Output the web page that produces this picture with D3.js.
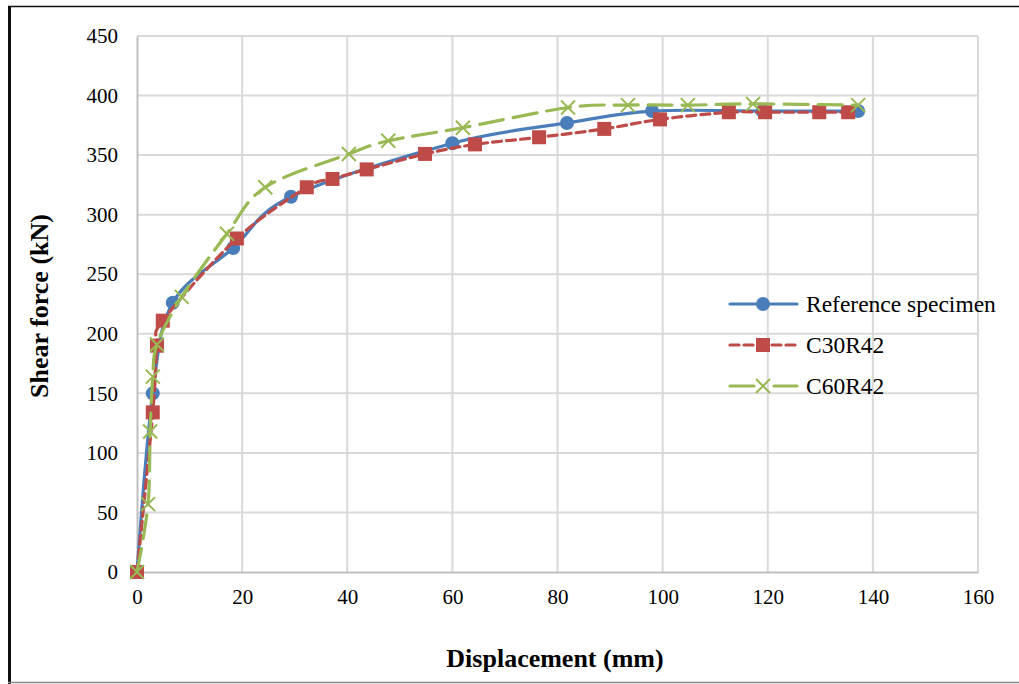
<!DOCTYPE html>
<meta charset="utf-8">
<style>
body{margin:0;background:#fff;}
svg text{font-family:"Liberation Serif","Times New Roman",serif;fill:#000;}
</style>
<svg id="chart" width="1019" height="684"></svg>
<script src="https://d3js.org/d3.v7.min.js"></script>
<script>
// data: displacement (mm) / shear force (kN)
const refX = [0, 3.0, 6.8, 18.3, 29.3, 60, 81.8, 98, 119, 137.2]
const refY = [0, 150, 226, 272, 315, 360, 377, 387, 387, 387]
const c30X = [0, 3.0, 3.8, 4.9, 19, 32.3, 37.2, 43.7, 54.8, 64.3, 76.5, 88.9, 99.5, 112.6, 119.5, 129.8, 135.3]
const c30Y = [0, 134, 190, 211, 280, 323, 330, 338, 351, 359, 365, 372, 380, 386, 386, 386, 386]
const c60X = [0, 2.1, 2.5, 3.0, 3.8, 8.5, 17.1, 24.4, 40.3, 47.8, 62, 82, 93.4, 104.8, 117.2, 137.2]
const c60Y = [0, 57, 118, 164, 191, 231, 284, 323, 351, 362, 373, 390, 392, 392, 393, 392]
const seriesNames = ['Reference specimen', 'C30R42', 'C60R42']
const xTicks = d3.range(0, 161, 20)
const yTicks = d3.range(0, 451, 50)

const svg = d3.select('#chart')

// outer frame
svg.append('line').attr('x1', 9.5).attr('x2', 9.5).attr('y1', 6).attr('y2', 684).attr('stroke', '#111').attr('stroke-width', 3)
svg.append('line').attr('x1', 8).attr('x2', 1019).attr('y1', 6.5).attr('y2', 6.5).attr('stroke', '#111').attr('stroke-width', 1.5)
svg.append('line').attr('x1', 8).attr('x2', 1019).attr('y1', 682.5).attr('y2', 682.5).attr('stroke', '#888').attr('stroke-width', 1.5)

const x = d3.scaleLinear().domain([0, 160]).range([137, 978])
const y = d3.scaleLinear().domain([0, 450]).range([572, 36])

// grid
const grid = svg.append('g')
grid.selectAll('line.v').data(xTicks.slice(1)).enter().append('line')
  .attr('x1', d => x(d)).attr('x2', d => x(d)).attr('y1', y(0)).attr('y2', y(450))
  .attr('stroke', '#d9d9d9').attr('stroke-width', 2)
grid.selectAll('line.h').data(yTicks.slice(1)).enter().append('line')
  .attr('x1', x(0)).attr('x2', x(160)).attr('y1', d => y(d)).attr('y2', d => y(d))
  .attr('stroke', '#d9d9d9').attr('stroke-width', 2)

// axes
const xAxis = svg.append('g').attr('transform', `translate(0,${y(0)})`)
  .call(d3.axisBottom(x).tickValues(xTicks).tickSize(0).tickPadding(20))
const yAxis = svg.append('g').attr('transform', `translate(${x(0)},0)`)
  .call(d3.axisLeft(y).tickValues(yTicks).tickSize(0).tickPadding(20))
for (const a of [xAxis, yAxis]) {
  a.select('.domain').attr('stroke', '#bfbfbf').attr('stroke-width', 2)
  a.selectAll('text').style('font-size', '21px').style('font-family', '"Liberation Serif",serif')
}
xAxis.selectAll('text').attr('dy', '0.71em').attr('y', 17)
yAxis.selectAll('text').attr('x', -19)

svg.append('text').attr('x', 555).attr('y', 667).attr('text-anchor', 'middle')
  .style('font-size', '26px').style('font-weight', 'bold').text('Displacement (mm)')
svg.append('text').attr('transform', 'translate(48,306) rotate(-90)').attr('text-anchor', 'middle')
  .style('font-size', '26px').style('font-weight', 'bold').text('Shear force (kN)')

const series = [
  {name: seriesNames[0], xs: refX, ys: refY, color: '#4a7ebb', dash: null, marker: 'circle'},
  {name: seriesNames[1], xs: c30X, ys: c30Y, color: '#be4b48', dash: '9,5', marker: 'square'},
  {name: seriesNames[2], xs: c60X, ys: c60Y, color: '#98b954', dash: '24,10', marker: 'cross'}
]

const line = d3.line().x(d => x(d[0])).y(d => y(d[1])).curve(d3.curveCardinal.tension(0))

function drawMarker(g, kind, color, cx, cy) {
  if (kind === 'circle') {
    g.append('circle').attr('cx', cx).attr('cy', cy).attr('r', 7).attr('fill', color)
  } else if (kind === 'square') {
    g.append('rect').attr('x', cx - 7).attr('y', cy - 7).attr('width', 14).attr('height', 14).attr('fill', color)
  } else {
    const s = 7
    g.append('path').attr('d', `M${cx - s},${cy - s}L${cx + s},${cy + s}M${cx - s},${cy + s}L${cx + s},${cy - s}`)
      .attr('stroke', color).attr('stroke-width', 2).attr('fill', 'none')
  }
}

series.forEach(s => {
  const pts = s.xs.map((v, i) => [v, s.ys[i]])
  const g = svg.append('g')
  g.append('path').datum(pts).attr('d', line)
    .attr('fill', 'none').attr('stroke', s.color).attr('stroke-width', 3.2)
    .attr('stroke-dasharray', s.dash).attr('stroke-linecap', 'round')
  pts.forEach(p => drawMarker(g, s.marker, s.color, x(p[0]), y(p[1])))
})

// legend
const legend = svg.append('g')
series.forEach((s, i) => {
  const ly = 304 + i * 41
  legend.append('line').attr('x1', 730).attr('x2', 797).attr('y1', ly).attr('y2', ly)
    .attr('stroke', s.color).attr('stroke-width', 3.2).attr('stroke-dasharray', s.marker === 'cross' ? '24,20' : s.dash)
    .attr('stroke-linecap', 'round')
  drawMarker(legend, s.marker, s.color, 763, ly)
  legend.append('text').attr('x', 806).attr('y', ly).attr('dy', '0.35em')
    .style('font-size', '23.5px').text(s.name)
})
</script>
